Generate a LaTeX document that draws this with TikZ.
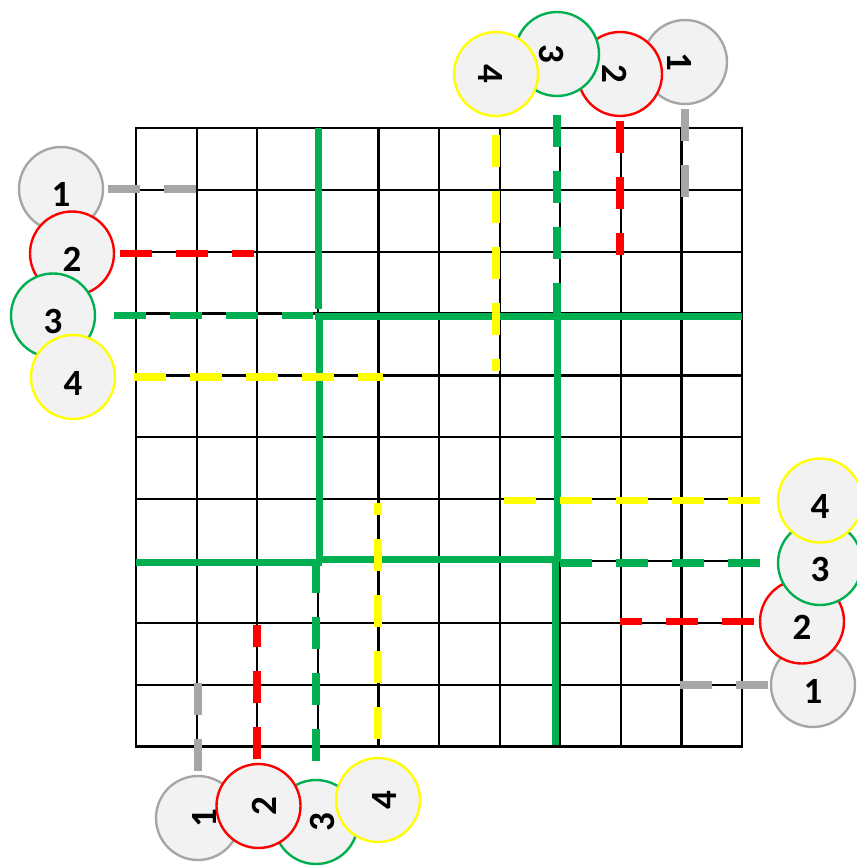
\documentclass[tikz,border=0pt]{standalone}
\usepackage{fontspec}
\setmainfont{Carlito}[BoldFont={Carlito Bold}]
\usetikzlibrary{calc}
\definecolor{cgray}{HTML}{A6A6A6}
\definecolor{cred}{HTML}{FF0000}
\definecolor{cgreen}{HTML}{00B050}
\definecolor{cyellow}{HTML}{FFFF00}
\definecolor{cfill}{HTML}{F2F2F2}
\begin{document}
\begin{tikzpicture}[x=1pt,y=-1pt,
  ball/.style={circle, draw=#1, line width=2.4pt, fill=cfill, minimum size=84pt, inner sep=0pt,
    text=black, font=\fontsize{37}{37}\selectfont\bfseries, text height=36pt, text depth=0pt},
  gridline/.style={line width=2.2pt, black},
  route/.style={draw=#1, line width=7.5pt, dash pattern=on 32pt off 24pt},
  wall/.style={line width=7pt, cgreen}]
\useasboundingbox (0,0) rectangle (856,866);

% grid
\foreach \i in {1,...,9} {
  \draw[gridline] (136+60.6*\i,128) -- (136+60.6*\i,746.5);
  \draw[gridline] (136,128+61.85*\i) -- (742,128+61.85*\i);
}
\draw[gridline] (136,128) rectangle (742,746.5);

% green walls
\draw[wall] (318,128) -- (318,309);
\draw[wall] (315,316) -- (742,316);
\draw[wall] (319,313) -- (319,562);
\draw[wall] (136,562) -- (322,562);
\draw[wall] (316,559) -- (557,559);
\draw[wall] (557,313) -- (557,562);
\draw[wall] (555,559) -- (555,745);

% circles left
\node[ball=cgray] (L1) at (61,189) {1};
\node[ball=cred] (L2) at (72,253.5) {2};
\node[ball=cgreen] (L3) at (53,315.5) {3};
\node[ball=cyellow] (L4) at (73,377) {4};
% circles top
\node[ball=cgray, rotate=-90] (T1) at (685,62) {1};
\node[ball=cred, rotate=-90] (T2) at (620,74) {2};
\node[ball=cgreen, rotate=-90] (T3) at (557,54) {3};
\node[ball=cyellow, rotate=-90] (T4) at (496,74) {4};
% circles right
\node[ball=cgray] (R1) at (813,685) {1};
\node[ball=cred] (R2) at (802,621.5) {2};
\node[ball=cgreen] (R3) at (820,563) {3};
\node[ball=cyellow] (R4) at (820,500.5) {4};
% circles bottom
\node[ball=cgray, rotate=90] (B1) at (198,818) {1};
\node[ball=cgreen, rotate=90] (B3) at (316,822) {3};
\node[ball=cred, rotate=90] (B2) at (258.5,806) {2};
\node[ball=cyellow, rotate=90] (B4) at (378,800) {4};

% free ends
\coordinate (eL1) at (197,189);
\coordinate (eL2) at (254,253.5);
\coordinate (eL3) at (313,315.5);
\coordinate (eL4) at (383,377);
\coordinate (eT1) at (685,197);
\coordinate (eT2) at (620,255);
\coordinate (eT3) at (557,315);
\coordinate (eT4) at (496,371);
\coordinate (eR1) at (680,685);
\coordinate (eR2) at (620,621.5);
\coordinate (eR3) at (560,563);
\coordinate (eR4) at (504,500.5);
\coordinate (eB1) at (198,683);
\coordinate (eB2) at (257,625);
\coordinate (eB3) at (316,562);
\coordinate (eB4) at (378,503);

% routes
\draw[route=cgray]   ($(L1)+(47,0)$) -- (eL1);
\draw[route=cred]    ($(L2)+(48,0)$) -- (eL2);
\draw[route=cgreen]  ($(L3)+(61,0)$) -- (eL3);
\draw[route=cyellow] ($(L4)+(61,0)$) -- (eL4);

\draw[route=cgray]   ($(T1)+(0,47)$) -- (eT1);
\draw[route=cred]    ($(T2)+(0,47)$) -- (eT2);
\draw[route=cgreen]  ($(T3)+(0,61)$) -- (eT3);
\draw[route=cyellow] ($(T4)+(0,61)$) -- (eT4);

\draw[route=cgray]   ($(R1)+(-45,0)$) -- (eR1);
\draw[route=cred]    ($(R2)+(-48,0)$) -- (eR2);
\draw[route=cgreen]  ($(R3)+(-60,0)$) -- (eR3);
\draw[route=cyellow] ($(R4)+(-60,0)$) -- (eR4);

\draw[route=cgray]   ($(B1)+(0,-47)$) -- (eB1);
\draw[route=cred]    ($(B2)+(-1.5,-47)$) -- (eB2);
\draw[route=cgreen]  ($(B3)+(0,-61)$) -- (eB3);
\draw[route=cyellow] ($(B4)+(0,-61)$) -- (eB4);
\end{tikzpicture}
\end{document}
